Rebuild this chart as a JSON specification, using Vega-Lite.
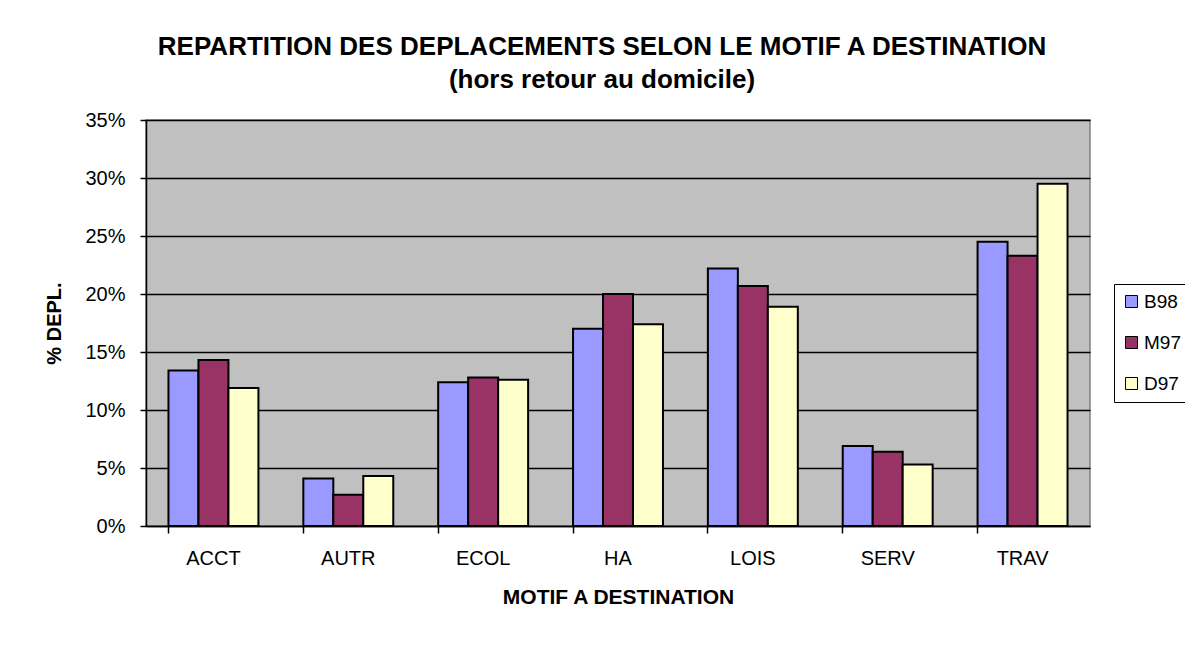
{
  "$schema": "https://vega.github.io/schema/vega-lite/v6.json",
  "width": 944,
  "height": 406,
  "autosize": "none",
  "padding": {"left": 146, "top": 120, "right": 95, "bottom": 120},
  "background": "white",
  "title": {
    "text": ["REPARTITION DES DEPLACEMENTS SELON LE MOTIF A DESTINATION", "(hors retour au domicile)"],
    "font": "Liberation Sans",
    "fontSize": 26,
    "fontWeight": "bold",
    "color": "black",
    "anchor": "middle",
    "dx": -16,
    "lineHeight": 33,
    "offset": 17
  },
  "data": {
    "values": [
      {"motif": "ACCT", "serie": "B98", "pct": 0.134},
      {"motif": "ACCT", "serie": "M97", "pct": 0.143},
      {"motif": "ACCT", "serie": "D97", "pct": 0.119},
      {"motif": "AUTR", "serie": "B98", "pct": 0.041},
      {"motif": "AUTR", "serie": "M97", "pct": 0.027},
      {"motif": "AUTR", "serie": "D97", "pct": 0.043},
      {"motif": "ECOL", "serie": "B98", "pct": 0.124},
      {"motif": "ECOL", "serie": "M97", "pct": 0.128},
      {"motif": "ECOL", "serie": "D97", "pct": 0.126},
      {"motif": "HA", "serie": "B98", "pct": 0.170},
      {"motif": "HA", "serie": "M97", "pct": 0.200},
      {"motif": "HA", "serie": "D97", "pct": 0.174},
      {"motif": "LOIS", "serie": "B98", "pct": 0.222},
      {"motif": "LOIS", "serie": "M97", "pct": 0.207},
      {"motif": "LOIS", "serie": "D97", "pct": 0.189},
      {"motif": "SERV", "serie": "B98", "pct": 0.069},
      {"motif": "SERV", "serie": "M97", "pct": 0.064},
      {"motif": "SERV", "serie": "D97", "pct": 0.053},
      {"motif": "TRAV", "serie": "B98", "pct": 0.245},
      {"motif": "TRAV", "serie": "M97", "pct": 0.233},
      {"motif": "TRAV", "serie": "D97", "pct": 0.295}
    ]
  },
  "mark": {"type": "bar", "stroke": "black", "strokeWidth": 2},
  "encoding": {
    "x": {
      "field": "motif",
      "type": "nominal",
      "sort": ["ACCT", "AUTR", "ECOL", "HA", "LOIS", "SERV", "TRAV"],
      "scale": {"paddingInner": 0.333, "paddingOuter": 0.1667},
      "title": "MOTIF A DESTINATION",
      "axis": {
        "bandPosition": 0,
        "labelAngle": 0,
        "grid": false,
        "domainColor": "black",
        "domainWidth": 1.5,
        "tickColor": "black",
        "tickWidth": 1.5,
        "tickSize": 7,
        "labelFont": "Liberation Sans",
        "labelFontSize": 20,
        "labelColor": "black",
        "labelPadding": 15,
        "titleFont": "Liberation Sans",
        "titleFontSize": 21,
        "titleFontWeight": "bold",
        "titleColor": "black",
        "titlePadding": 18
      }
    },
    "xOffset": {"field": "serie", "sort": ["B98", "M97", "D97"]},
    "y": {
      "field": "pct",
      "type": "quantitative",
      "scale": {"domain": [0, 0.35], "nice": false},
      "title": "% DEPL.",
      "axis": {
        "values": [0, 0.05, 0.1, 0.15, 0.2, 0.25, 0.3, 0.35],
        "format": ".0%",
        "grid": true,
        "gridColor": "black",
        "gridWidth": 1.5,
        "domainColor": "black",
        "domainWidth": 1.5,
        "tickColor": "black",
        "tickWidth": 1.5,
        "tickSize": 6,
        "labelFont": "Liberation Sans",
        "labelFontSize": 20,
        "labelColor": "black",
        "labelPadding": 15,
        "titleFont": "Liberation Sans",
        "titleFontSize": 20,
        "titleFontWeight": "bold",
        "titleColor": "black",
        "titlePadding": 20
      }
    },
    "color": {
      "field": "serie",
      "type": "nominal",
      "scale": {"domain": ["B98", "M97", "D97"], "range": ["#9999FF", "#993366", "#FFFFCC"]},
      "legend": {
        "title": null,
        "orient": "none",
        "legendX": 968,
        "legendY": 164,
        "strokeColor": "black",
        "fillColor": "white",
        "padding": 8,
        "symbolType": "square",
        "symbolSize": 144,
        "symbolStrokeColor": "black",
        "symbolStrokeWidth": 1,
        "symbolOpacity": 1,
        "labelFont": "Liberation Sans",
        "labelFontSize": 19,
        "labelColor": "black",
        "labelOffset": 3,
        "rowPadding": 21
      }
    }
  },
  "config": {
    "view": {"stroke": "#808080", "strokeWidth": 1.5, "fill": "#C0C0C0"}
  }
}
